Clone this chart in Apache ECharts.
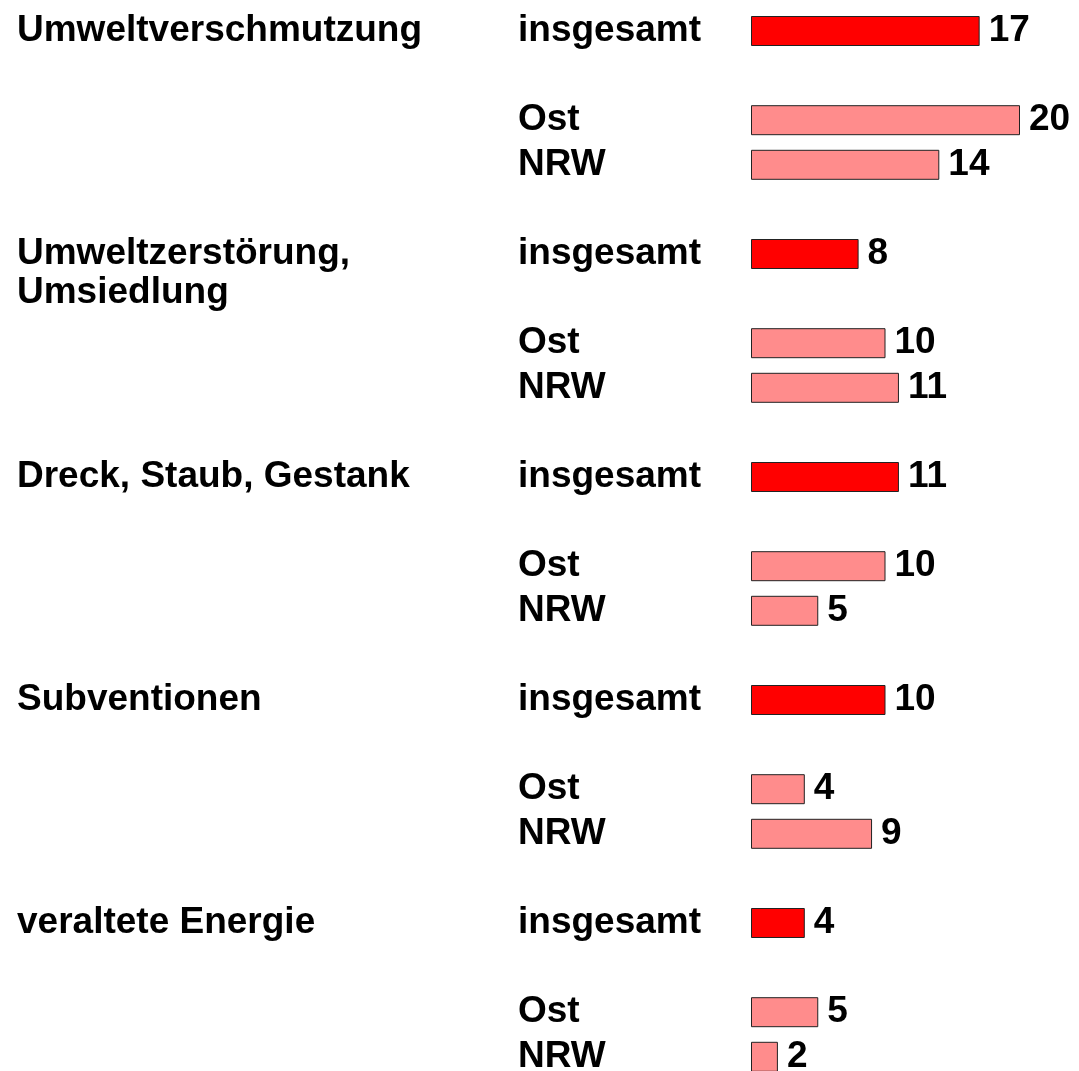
<!DOCTYPE html>
<html>
<head>
<meta charset="utf-8">
<script src="https://cdn.jsdelivr.net/npm/echarts@6/dist/echarts.min.js"></script>
<style>
html, body { margin: 0; padding: 0; background: #fff; }
#main { width: 1079px; height: 1071px; }
</style>
</head>
<body>
<div id="main"></div>
<script>
// Themen und Werte (Prozent)
var topics = ['Umweltverschmutzung', 'Umweltzerstörung,\nUmsiedlung', 'Dreck, Staub, Gestank', 'Subventionen', 'veraltete Energie']
var groups = ['insgesamt', 'Ost', 'NRW']
var insgesamt = [17, 8, 11, 10, 4]
var ost = [20, 10, 10, 4, 5]
var nrw = [14, 11, 5, 9, 2]

// 5 Plätze pro Thema: insgesamt, leer, Ost, NRW, leer
var slotOf = [0, 2, 3]
var perTopic = 5

var subLabels = []
var topicLabels = []
var rows = []
topics.forEach(function (t, i) {
    for (var s = 0; s < perTopic; s++) {
        rows.push(i * perTopic + s)
        var g = slotOf.indexOf(s)
        subLabels.push(g >= 0 ? groups[g] : '')
        topicLabels.push(s == 0 ? t : '')
    }
})

function slotData(values, slot) {
    var arr = rows.map(function () { return '-' })
    values.forEach(function (v, i) {
        arr[i * perTopic + slot] = v
    })
    return arr
}

var font = 'Liberation Sans, Arial, Helvetica, sans-serif'
var myChart = echarts.init(document.getElementById('main'))

function barSeries(name, values, slot, color) {
    return {
        name: name,
        type: 'bar',
        data: slotData(values, slot),
        barWidth: 30,
        barGap: '-100%',
        yAxisIndex: 0,
        itemStyle: {
            color: color,
            borderColor: '#222',
            borderWidth: 1
        },
        label: {
            show: true,
            position: 'right',
            distance: 9,
            color: '#000',
            fontFamily: font,
            fontWeight: 'bold',
            fontSize: 37
        }
    }
}

var option = {
    animation: false,
    backgroundColor: '#fff',
    grid: {
        left: 751,
        top: 8.7,
        width: 269,
        height: 25 * 44.6,
        containLabel: false,
        outerBoundsMode: 'none'
    },
    xAxis: {
        type: 'value',
        min: 0,
        max: 20,
        show: false
    },
    yAxis: [
        {
            type: 'category',
            inverse: true,
            data: subLabels,
            axisLine: { show: false },
            axisTick: { show: false },
            axisLabel: {
                interval: 0,
                align: 'left',
                margin: 233,
                color: '#000',
                fontFamily: font,
                fontWeight: 'bold',
                fontSize: 37
            }
        },
        {
            type: 'category',
            inverse: true,
            position: 'left',
            data: topicLabels,
            axisLine: { show: false },
            axisTick: { show: false },
            axisLabel: {
                interval: 0,
                align: 'left',
                margin: 734,
                lineHeight: 39,
                color: '#000',
                fontFamily: font,
                fontWeight: 'bold',
                fontSize: 37,
                // erste Zeile auf Höhe von "insgesamt"
                formatter: function (v) {
                    return v.indexOf('\n') >= 0 ? '\n' + v : v
                }
            }
        }
    ],
    series: [
        barSeries('insgesamt', insgesamt, slotOf[0], '#ff0000'),
        barSeries('Ost', ost, slotOf[1], '#ff8c8c'),
        barSeries('NRW', nrw, slotOf[2], '#ff8c8c')
    ]
}
myChart.setOption(option)
</script>
</body>
</html>
